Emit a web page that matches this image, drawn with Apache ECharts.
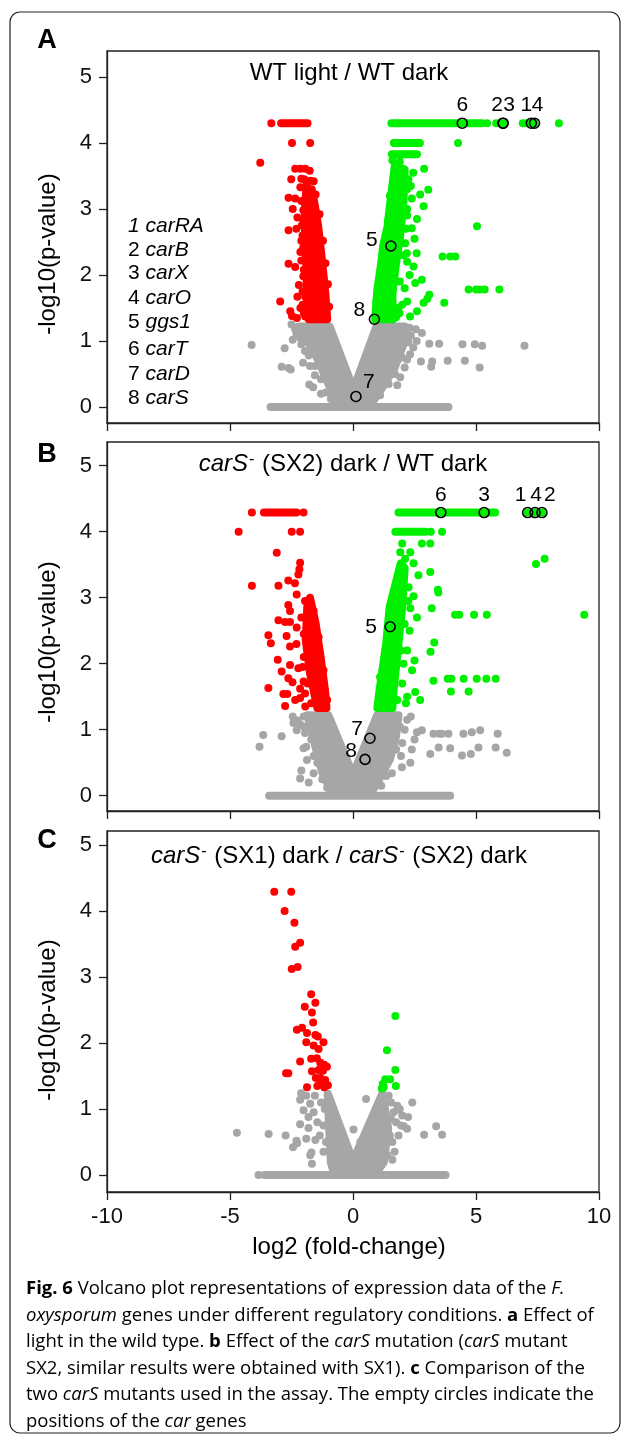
<!DOCTYPE html>
<html>
<head>
<meta charset="utf-8">
<script src="https://cdn.jsdelivr.net/npm/echarts@6/dist/echarts.min.js"></script>
<style>
  html, body { margin: 0; padding: 0; background: #fff; }
  #main { width: 627px; height: 1436px; }
</style>
</head>
<body>
<div id="main"></div>
<script>
// values: x = log2(fold-change), y = -log10(p-value)
// rows are [xStart, xEnd, y] runs of overlapping dots, blobs are outlines of solid dot masses

// ---- A : WT light / WT dark ----
var aGrayRows = [[-3.35, 3.88, 0]];
var aGrayBlob = [[-2.2,1.22],[-0.95,1.22],[0.02,0.27],[0.95,1.22],[2.1,1.22],[2.05,0.95],[1.7,0.6],[1.2,0.3],[0.8,0.08],[-0.7,0.08],[-1.0,0.35],[-1.4,0.7],[-1.85,1.0]];
var aGrayPts = [[-4.12,0.94],[-2.78,0.89],[-2.90,0.61],[-2.62,0.59],[-2.53,0.57],[-2.03,0.67],[-1.78,0.34],[-1.62,0.30],[-2.35,1.18],[-2.15,1.05],[-1.95,0.85],[-1.75,0.62],[-1.55,0.48],[-1.3,0.2],[-2.5,1.25],
  [-2.3,1.10],[-2.1,0.95],[-1.8,0.78],[-1.55,0.62],[-1.3,0.42],[-1.1,0.22],[-0.9,0.12],[-2.45,1.02],
  [3.10,0.96],[3.50,0.96],[4.45,0.95],[4.95,0.95],[5.25,0.93],[6.97,0.93],[2.76,0.69],[3.18,0.61],[3.22,0.69],[3.85,0.70],[4.55,0.70],[5.15,0.60],[2.59,1.00],[2.35,1.08],[2.45,0.90],[2.32,0.80],[2.20,0.72],[1.92,0.45],[1.80,0.33],[2.55,1.18],[2.8,1.12],[2.0,1.15],[2.2,1.12],[1.95,0.95],
  [2.3,1.20],[2.25,0.98],[2.0,0.75],[1.7,0.50],[1.45,0.35],[1.1,0.18],[2.1,0.60]];
var aRedRows = [[-2.92, -1.85, 4.30]];
var aRedBlob = [[-1.80,1.33],[-1.05,1.33],[-1.12,1.70],[-1.20,2.00],[-1.30,2.35],[-1.42,2.75],[-1.55,3.05],[-1.68,3.30],[-1.90,3.30],[-1.95,3.00],[-1.95,2.60],[-1.90,2.20],[-1.88,1.80],[-1.85,1.50]];
var aRedPts = [[-3.32,4.30],[-2.48,4.0],[-1.74,4.0],[-3.77,3.70],
  [-2.35,3.61],[-2.14,3.61],[-1.94,3.61],[-1.76,3.58],[-2.51,3.45],[-2.10,3.46],[-1.74,3.43],[-2.14,3.33],[-1.88,3.39],[-2.62,3.17],[-2.35,3.16],[-2.02,2.98],[-2.26,2.87],[-2.02,2.83],[-2.62,2.68],[-2.30,2.70],[-2.10,2.52],[-2.14,2.35],[-2.62,2.17],[-2.35,2.12],[-2.10,2.22],[-2.02,1.98],[-2.26,1.67],[-1.94,1.67],[-2.96,1.60],[-2.55,1.45],[-2.14,1.50],[-1.94,1.37],[-2.48,1.38],[-2.20,1.85],[-2.05,1.55],[-2.05,2.60],[-2.45,3.00],[-2.28,1.35],
  [-2.0,1.42],[-2.05,1.75],[-2.0,2.08],[-2.02,2.42],[-2.08,2.75],[-2.1,3.12],[-1.98,3.45],[-1.52,3.22],[-1.36,2.92],[-1.22,2.52],[-1.12,2.18],[-1.02,1.86],[-0.97,1.52],[-1.6,3.42]];
var aGreenRows = [[1.56, 5.25, 4.30], [1.66, 2.72, 4.0], [1.58, 2.60, 3.83]];
var aGreenBlob = [[0.90,1.33],[1.62,1.33],[1.60,1.70],[1.72,2.10],[1.92,2.60],[2.05,3.10],[2.10,3.60],[1.70,3.66],[1.53,3.14],[1.40,2.73],[1.23,2.45],[1.13,2.13],[0.99,1.78]];
var aGreenPts = [[5.45,4.30],[5.82,4.30],[6.10,4.30],[6.90,4.30],[7.05,4.30],[7.27,4.30],[7.38,4.30],[8.37,4.30],[4.27,4.0],
  [2.89,3.61],[3.06,3.29],[2.73,3.22],[2.87,3.04],[2.39,3.16],[2.39,2.71],[2.59,2.33],[2.46,2.13],[2.80,1.93],[2.53,1.88],[3.02,1.64],[2.87,1.58],[3.71,1.58],[2.32,1.37],[1.89,1.42],[5.04,2.74],[3.64,2.28],[3.95,2.28],[4.16,2.28],[4.70,1.78],[5.00,1.78],[5.15,1.78],[5.35,1.78],[5.95,1.78],[3.10,1.70],[2.19,2.33],[2.12,2.48],[2.25,3.45],[2.45,3.55],[2.2,2.9],[2.3,2.0],[2.1,1.8],[2.0,1.55],[2.6,1.45],[2.2,1.6],[2.5,2.55],[2.35,3.35],[2.6,2.85],[1.9,1.9],[2.2,2.2],
  [2.2,3.0],[2.15,2.7],[2.05,2.3],[1.85,1.5],[1.75,1.36],[2.2,3.3],[1.9,3.72],[1.6,3.74],[0.95,1.6],[1.1,2.0],[1.25,2.36],[1.42,2.82],[1.5,3.2]];
var aGenes = [[7.25,4.30],[6.10,4.30],[6.10,4.30],[7.38,4.30],[1.54,2.44],[4.44,4.30],[0.12,0.16],[0.87,1.33]];
var aGeneIds = ['1','2','3','4','5','6','7','8'];

// ---- B : carS- (SX2) dark / WT dark ----
var bGrayRows = [[-3.41, 3.95, 0]];
var bGrayBlob = [[-1.85,1.22],[-1.00,1.22],[0.0,0.32],[0.98,1.22],[1.85,1.22],[1.75,0.9],[1.5,0.55],[1.0,0.2],[0.8,0.08],[-0.9,0.08],[-1.25,0.35],[-1.5,0.7],[-1.7,1.0]];
var bGrayPts = [[-3.65,0.92],[-2.90,0.90],[-3.80,0.74],[-2.25,1.14],[-2.15,1.08],[-2.29,0.99],[-1.90,0.74],[-1.87,0.54],[-1.60,0.34],[-2.10,0.38],[-2.15,0.26],[-2.0,1.2],[-2.45,1.2],[-1.95,0.95],[-1.8,0.2],[-2.42,1.10],[-2.01,0.72],[-1.6,0.6],
  [-1.7,0.85],[-1.45,0.5],[-1.25,0.25],[-1.05,0.12],[-2.0,1.05],
  [2.60,0.96],[2.80,0.99],[3.27,0.94],[3.50,0.94],[3.61,0.94],[3.88,0.94],[4.49,0.94],[4.83,0.96],[5.17,0.99],[5.88,0.94],[2.39,0.70],[3.14,0.63],[3.48,0.73],[3.95,0.72],[4.43,0.61],[4.79,0.63],[5.10,0.73],[5.80,0.73],[6.25,0.65],[2.33,0.50],[1.58,0.34],[2.2,1.15],[2.1,1.0],[2.0,0.8],[1.95,0.6],[2.35,1.2],[2.5,0.85],[1.99,0.43],
  [1.9,1.05],[1.75,0.7],[1.35,0.3],[1.15,0.15]];
var bRedRows = [[-3.62, -2.30, 4.29]];
var bRedBlob = [[-1.45,1.33],[-1.08,1.33],[-1.14,1.60],[-1.32,2.11],[-1.52,2.61],[-1.75,3.00],[-1.86,2.86],[-1.92,2.36],[-1.75,1.86]];
var bRedPts = [[-4.11,4.29],[-2.01,4.29],[-4.65,4.0],[-2.49,4.0],[-2.15,4.0],[-3.10,3.68],
  [-4.11,3.18],[-3.03,3.18],[-2.63,3.26],[-2.15,3.53],[-2.18,3.43],[-2.22,3.35],[-2.36,3.22],[-2.63,2.89],[-2.29,3.05],[-2.56,2.80],[-3.03,2.66],[-2.76,2.63],[-2.56,2.63],[-3.44,2.43],[-3.34,2.31],[-2.29,2.55],[-2.56,2.26],[-3.06,2.06],[-2.56,1.98],[-2.22,1.93],[-2.63,1.78],[-2.46,1.72],[-2.01,1.73],[-3.44,1.63],[-2.83,1.54],[-2.67,1.54],[-2.15,1.48],[-2.76,1.36],[-1.94,1.35],[-2.15,1.62],[-2.0,2.1],[-2.1,2.7],[-1.95,1.55],[-2.3,2.3],[-2.05,1.95],[-2.35,1.45],[-2.9,1.88],[-2.7,2.42],
  [-1.7,1.4],[-1.85,1.7],[-2.0,2.45],[-1.95,2.95],[-1.2,1.9],[-1.4,2.4],[-1.6,2.8],[-1.05,1.45]];
var bGreenRows = [[1.85, 5.78, 4.29], [1.72, 2.95, 4.0]];
var bGreenBlob = [[0.99,1.33],[1.60,1.33],[1.65,1.60],[1.85,2.31],[2.00,2.86],[2.10,3.45],[1.94,3.52],[1.49,2.86],[1.35,2.31],[1.08,1.60]];
var bGreenPts = [[3.16,4.0],[3.62,4.0],[2.00,3.82],[2.80,3.82],[3.14,3.82],[7.10,4.29],[7.40,4.29],[7.68,4.29],[7.44,3.51],[7.79,3.59],[9.40,2.74],
  [1.92,3.69],[2.33,3.69],[2.12,3.59],[2.46,3.52],[2.66,3.34],[3.14,3.39],[2.26,3.16],[2.46,3.02],[2.33,2.84],[3.45,3.12],[3.20,2.84],[4.15,2.74],[4.32,2.74],[4.92,2.74],[5.44,2.74],[3.30,2.32],[3.15,2.18],[2.05,2.00],[3.27,1.74],[3.85,1.77],[4.00,1.77],[4.50,1.77],[5.03,1.77],[5.42,1.77],[5.80,1.77],[3.98,1.58],[4.70,1.58],[2.53,1.57],[2.73,1.45],[2.2,1.5],[2.4,1.9],[2.3,2.5],[2.2,2.2],[2.5,2.05],[2.15,1.4],[2.0,1.7],[2.25,2.95],[2.6,2.7],[3.47,3.08],
  [1.8,1.45],[1.95,2.2],[2.1,2.6],[1.1,1.8],[1.3,2.1],[1.5,2.6],[1.7,3.1]];
var bGenes = [[7.10,4.29],[7.68,4.29],[5.33,4.29],[7.40,4.29],[1.51,2.56],[3.57,4.29],[0.69,0.87],[0.49,0.55]];
var bGeneIds = ['1','2','3','4','5','6','7','8'];

// ---- C : carS- (SX1) dark / carS- (SX2) dark ----
var cGrayRows = [[-3.60, 3.76, 0]];
var cGrayBlob = [[-1.03,1.24],[0.0,0.21],[1.20,1.24],[1.43,0.70],[1.25,0.19],[1.0,0.06],[-0.8,0.06],[-0.9,0.19],[-0.97,0.70]];
var cGrayPts = [[-3.84,0],[-4.72,0.64],[-3.43,0.62],[-2.74,0.60],[-2.30,0.52],[-2.44,0.42],[-2.11,1.24],[-2.15,1.14],[-2.01,0.98],[-1.74,1.08],[-1.81,0.88],[-2.15,0.77],[-1.81,0.71],[-1.53,0.53],[-1.74,0.30],[-1.67,0.17],[-1.9,1.2],[-1.6,0.95],[-1.45,0.8],[-1.3,1.1],[-1.35,0.6],[-1.2,0.35],[-1.55,1.2],[-1.9,0.55],[-2.27,0.48],[-1.69,0.34],
  [-1.15,1.0],[-1.2,0.75],[-1.1,0.5],
  [0.02,0.69],[0.53,1.15],[0.30,0.50],
  [2.41,1.10],[2.24,0.88],[2.07,0.74],[1.69,0.35],[1.60,0.23],[2.89,0.61],[3.38,0.74],[3.62,0.61],[1.9,1.0],[2.0,0.9],[1.8,1.05],[1.75,0.8],[1.85,0.6],[1.6,0.5],[1.95,0.75],[2.2,0.7],[1.55,1.1],[1.65,0.95],[1.86,0.99],
  [1.45,1.2],[1.55,0.85],[1.5,0.6],[1.4,0.3]];
var cRedPts = [[-3.20,4.29],[-2.51,4.29],[-2.78,4.00],[-2.38,3.82],[-2.35,3.46],[-2.15,3.52],[-2.49,3.12],[-2.25,3.15],[-1.70,2.74],[-1.53,2.61],[-1.96,2.55],[-1.67,2.46],[-1.62,2.31],[-2.28,2.20],[-2.07,2.23],[-1.87,2.15],[-1.53,2.12],[-1.43,2.10],[-1.90,2.01],[-1.60,1.96],[-1.20,2.01],[-1.40,1.91],[-2.15,1.72],[-1.70,1.76],[-1.47,1.77],[-1.33,1.70],[-1.17,1.67],[-1.06,1.64],[-1.67,1.57],[-1.40,1.59],[-1.22,1.58],[-2.72,1.54],[-2.63,1.54],[-1.51,1.47],[-1.33,1.47],[-1.13,1.44],[-1.87,1.33],[-1.17,1.33],[-1.02,1.36],[-1.30,1.40],[-1.45,1.35]];
var cGreenPts = [[1.72,2.41],[1.38,1.89],[1.72,1.59],[1.74,1.35],[1.17,1.31],[1.31,1.45],[1.51,1.45],[1.21,1.38],[1.25,1.33]];

var tickValsY = [0, 1, 2, 3, 4, 5];
var legendNums = ['1', '2', '3', '4', '5', '6', '7', '8'];
var legendGenes = ['carRA', 'carB', 'carX', 'carO', 'ggs1', 'carT', 'carD', 'carS'];

var FONT = '"Liberation Sans", Arial, sans-serif';
var CAP = '"Open Sans", sans-serif';
var GRAY = '#a6a6a6', RED = '#ff0000', GREEN = '#00f000';
var DOT = 8;

// label offsets around the open circles, per gene number
var offA = {'1':[-5,-18],'2':[-6,-18],'3':[6,-18],'4':[3,-18],'5':[-19,-6],'6':[0,-18],'7':[13,-14],'8':[-15,-9]};
var offB = {'1':[-7,-17],'2':[8,-17],'3':[0,-17],'4':[1,-17],'5':[-19,0],'6':[0,-17],'7':[-13,-9],'8':[-14,-8]};

var grids = [
  {left: 107, right: 28, top: 51, height: 372},
  {left: 107, right: 28, top: 442, height: 369},
  {left: 107, right: 28, top: 831, height: 361}
];
var yMin = [-0.242, -0.232, -0.258];
var yMax = [5.394, 5.359, 5.212];

function rowsToLines(rows) {
  return rows.map(function (r) { return [[r[0], r[2]], [r[1], r[2]]]; });
}

// solid dot masses: outline through the dot centres, thick round stroke = dot radius
function blob(gi, polys, color, z) {
  return {
    type: 'custom', xAxisIndex: gi, yAxisIndex: gi, silent: true, z: z,
    data: polys.map(function (p, i) { return [i]; }),
    renderItem: function (params, api) {
      var pts = polys[params.dataIndex].map(function (p) { return api.coord(p); });
      var closed = pts.length > 2;
      return {
        type: closed ? 'polygon' : 'polyline',
        shape: {points: pts},
        style: {fill: closed ? color : null, stroke: color, lineWidth: DOT, lineJoin: 'round', lineCap: 'round'}
      };
    }
  };
}

function dots(gi, pts, color, z) {
  return {
    type: 'scatter', xAxisIndex: gi, yAxisIndex: gi, silent: true, z: z,
    symbolSize: DOT, itemStyle: {color: color, opacity: 1}, data: pts
  };
}

function genes(gi, pts, ids, off) {
  return {
    type: 'scatter', xAxisIndex: gi, yAxisIndex: gi, silent: true, z: 6,
    symbol: 'circle', symbolSize: 10,
    itemStyle: {color: 'rgba(0,0,0,0)', borderColor: '#000', borderWidth: 1.6, opacity: 1},
    label: {show: true, position: 'inside', fontSize: 21, fontFamily: FONT, color: '#000', opacity: 1, textBorderWidth: 0},
    data: pts.map(function (p, k) {
      return {value: p, label: {formatter: ids[k], offset: off[ids[k]], color: '#000'}};
    })
  };
}

var xAxes = [], yAxes = [];
for (var i = 0; i < 3; i++) {
  xAxes.push({
    gridIndex: i, type: 'value', min: -10, max: 10, interval: 5,
    axisLine: {show: true, onZero: false, lineStyle: {color: '#222', width: 1.3}},
    axisTick: {show: true, length: 8, lineStyle: {color: '#222', width: 1.3}},
    axisLabel: {show: i === 2, fontSize: 22, fontFamily: FONT, color: '#111', margin: 14, showMinLabel: true, showMaxLabel: true},
    splitLine: {show: false}
  });
  yAxes.push({
    gridIndex: i, type: 'value', min: yMin[i], max: yMax[i],
    axisLine: {show: true, onZero: false, lineStyle: {color: '#222', width: 1.3}},
    axisTick: {show: true, length: 8, customValues: tickValsY, lineStyle: {color: '#222', width: 1.3}},
    axisLabel: {fontSize: 22, fontFamily: FONT, color: '#111', margin: 15, customValues: tickValsY},
    splitLine: {show: false}
  });
}

var series = [
  blob(0, [aGrayBlob].concat(rowsToLines(aGrayRows)), GRAY, 2),
  dots(0, aGrayPts, GRAY, 2),
  blob(0, [aRedBlob].concat(rowsToLines(aRedRows)), RED, 3),
  dots(0, aRedPts, RED, 3),
  blob(0, [aGreenBlob].concat(rowsToLines(aGreenRows)), GREEN, 3),
  dots(0, aGreenPts, GREEN, 3),
  genes(0, aGenes, aGeneIds, offA),

  blob(1, [bGrayBlob].concat(rowsToLines(bGrayRows)), GRAY, 2),
  dots(1, bGrayPts, GRAY, 2),
  blob(1, [bRedBlob].concat(rowsToLines(bRedRows)), RED, 3),
  dots(1, bRedPts, RED, 3),
  blob(1, [bGreenBlob].concat(rowsToLines(bGreenRows)), GREEN, 3),
  dots(1, bGreenPts, GREEN, 3),
  genes(1, bGenes, bGeneIds, offB),

  blob(2, [cGrayBlob].concat(rowsToLines(cGrayRows)), GRAY, 2),
  dots(2, cGrayPts, GRAY, 2),
  dots(2, cRedPts, RED, 3),
  dots(2, cGreenPts, GREEN, 3)
];

function rs(size, style, weight, family) {
  return {fontSize: size, fontStyle: style || 'normal', fontWeight: weight || 'normal', fontFamily: family || FONT, fill: '#000'};
}

function txt(x, y, text, size, opts) {
  opts = opts || {};
  return {
    type: 'text', x: x, y: y, rotation: opts.rotation || 0, silent: true, z: 10,
    style: {
      text: text, fontSize: size, fontFamily: opts.family || FONT,
      fontWeight: opts.weight || 'normal', fontStyle: opts.style || 'normal',
      fill: opts.fill || '#000',
      align: opts.align || 'center', textAlign: opts.align || 'center',
      verticalAlign: 'middle', textVerticalAlign: 'middle',
      rich: opts.rich
    }
  };
}

var titleRich = {
  n: rs(24),
  i: rs(24, 'italic'),
  sup: {fontSize: 16, fontFamily: FONT, fill: '#000', verticalAlign: 'top', padding: [0, 1, 0, 1]}
};

var graphic = [
  {type: 'rect', silent: true, z: 0, shape: {x: 10, y: 12, width: 610, height: 1421, r: 10},
   style: {fill: 'none', stroke: '#222', lineWidth: 1.2}},
  txt(47, 41, 'A', 27, {weight: 'bold'}),
  txt(47, 455, 'B', 27, {weight: 'bold'}),
  txt(47, 841, 'C', 27, {weight: 'bold'}),
  txt(349, 73, 'WT light / WT dark', 24),
  txt(343, 464, '{i|carS}{sup|-}{n| (SX2) dark / WT dark}', 24, {rich: titleRich}),
  txt(339, 856, '{i|carS}{sup|-}{n| (SX1) dark / }{i|carS}{sup|-}{n| (SX2) dark}', 24, {rich: titleRich}),
  txt(48, 254, '-log10(p-value)', 24, {rotation: Math.PI / 2}),
  txt(48, 642, '-log10(p-value)', 24, {rotation: Math.PI / 2}),
  txt(48, 1020, '-log10(p-value)', 24, {rotation: Math.PI / 2}),
  txt(349, 1247, 'log2 (fold-change)', 24)
];

// gene legend in panel A
var legendY = [226, 250, 273, 298, 322, 349, 374, 398];
legendNums.forEach(function (n, k) {
  var text = k === 0 ? '{i|' + n + ' ' + legendGenes[k] + '}' : '{n|' + n + ' }{i|' + legendGenes[k] + '}';
  graphic.push(txt(128, legendY[k], text, 21, {align: 'left', rich: {n: rs(21), i: rs(21, 'italic')}}));
});

// figure caption
var capRich = {
  n: rs(18.5, 'normal', 'normal', CAP),
  i: rs(18.5, 'italic', 'normal', CAP),
  b: rs(18.5, 'normal', 'bold', CAP)
};
var capLines = [
  '{b|Fig. 6}{n| Volcano plot representations of expression data of the }{i|F.}',
  '{i|oxysporum}{n| genes under different regulatory conditions. }{b|a}{n| Effect of}',
  '{n|light in the wild type. }{b|b}{n| Effect of the }{i|carS}{n| mutation (}{i|carS}{n| mutant}',
  '{n|SX2, similar results were obtained with SX1). }{b|c}{n| Comparison of the}',
  '{n|two }{i|carS}{n| mutants used in the assay. The empty circles indicate the}',
  '{n|positions of the }{i|car}{n| genes}'
];
capLines.forEach(function (line, k) {
  graphic.push(txt(26, 1289 + k * 26.5, line, 18.5, {align: 'left', family: CAP, fill: '#222', rich: capRich}));
});

var chart = echarts.init(document.getElementById('main'), null, {renderer: 'canvas'});
chart.setOption({
  animation: false,
  backgroundColor: '#fff',
  grid: grids.map(function (g) {
    return Object.assign({show: true, borderColor: '#222', borderWidth: 1.3, backgroundColor: 'transparent'}, g);
  }),
  xAxis: xAxes,
  yAxis: yAxes,
  series: series,
  graphic: graphic
});
</script>
</body>
</html>
